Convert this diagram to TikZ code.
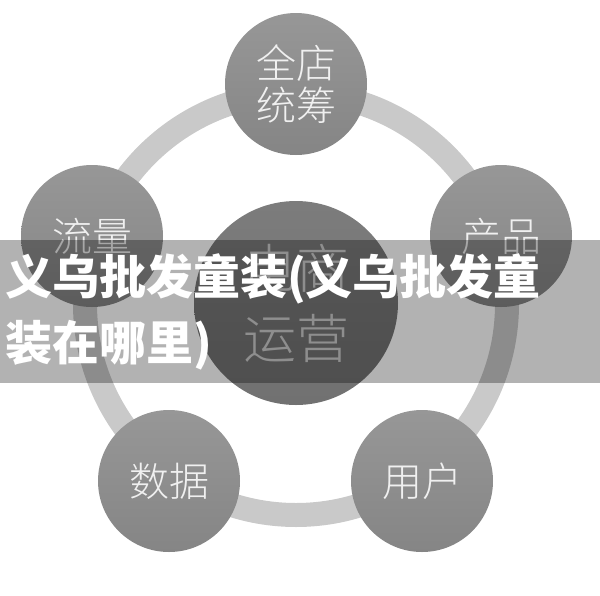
\documentclass[tikz,border=0pt]{standalone}
\usepackage{fontspec}
\newfontfamily\cjk{Noto Sans CJK SC}
\newfontfamily\cjklight{Noto Sans CJK SC Light}
\usetikzlibrary{positioning}
\definecolor{rim gray}{HTML}{C9C9C9}
\definecolor{satellite top}{HTML}{979797}
\definecolor{satellite bottom}{HTML}{858585}
\definecolor{hub top}{HTML}{7C7C7C}
\definecolor{hub bottom}{HTML}{717171}
\definecolor{label gray}{HTML}{F0F0F0}
\tikzset{
	ops wheel/.style={
		x=1pt,y=-1pt, % pixel grid, y grows downwards
		wheel rim/.style={
			draw=rim gray,
			line width=24pt
		},
		satellite/.style={
			circle,
			inner sep=0pt,
			minimum size=142pt,
			top color=satellite top,
			bottom color=satellite bottom,
			text=label gray,
			align=center,
			font=\cjklight\fontsize{40}{42}\selectfont
		},
		hub/.style={
			satellite,
			minimum size=204pt,
			top color=hub top,
			bottom color=hub bottom,
			text=label gray!85!black,
			font=\cjklight\fontsize{53}{70}\selectfont
		}
	},
	title band/.style={
		fill=black,
		fill opacity=0.3
	},
	title line/.style={
		anchor=base west,
		inner sep=0pt,
		text=white,
		font=\cjk\bfseries\fontsize{47}{47}\selectfont
	}
}

\begin{document}
\begin{tikzpicture}[ops wheel]
	\useasboundingbox (0,0) rectangle (600,595);
	\coordinate (centre) at (296,304);
	\draw[wheel rim] (centre) circle (211pt);
	\node[hub] (hub) at (296,303) {电商\\运营};
	\node[satellite] (overall) at (296,84) {全店\\统筹};
	\node[satellite] (traffic) at (92,236) {流量};
	\node[satellite] (product) at (501,236) {产品};
	\node[satellite] (data) at (169,481) {数据};
	\node[satellite] (user) at (422,481) {用户};
	% caption over the wheel
	\fill[title band] (0,240) rectangle (600,383);
	\node[title line] (title a) at (5,294) {义乌批发童装(义乌批发童};
	\node[title line] (title b) at (5,360) {装在哪里)};
\end{tikzpicture}
\end{document}
